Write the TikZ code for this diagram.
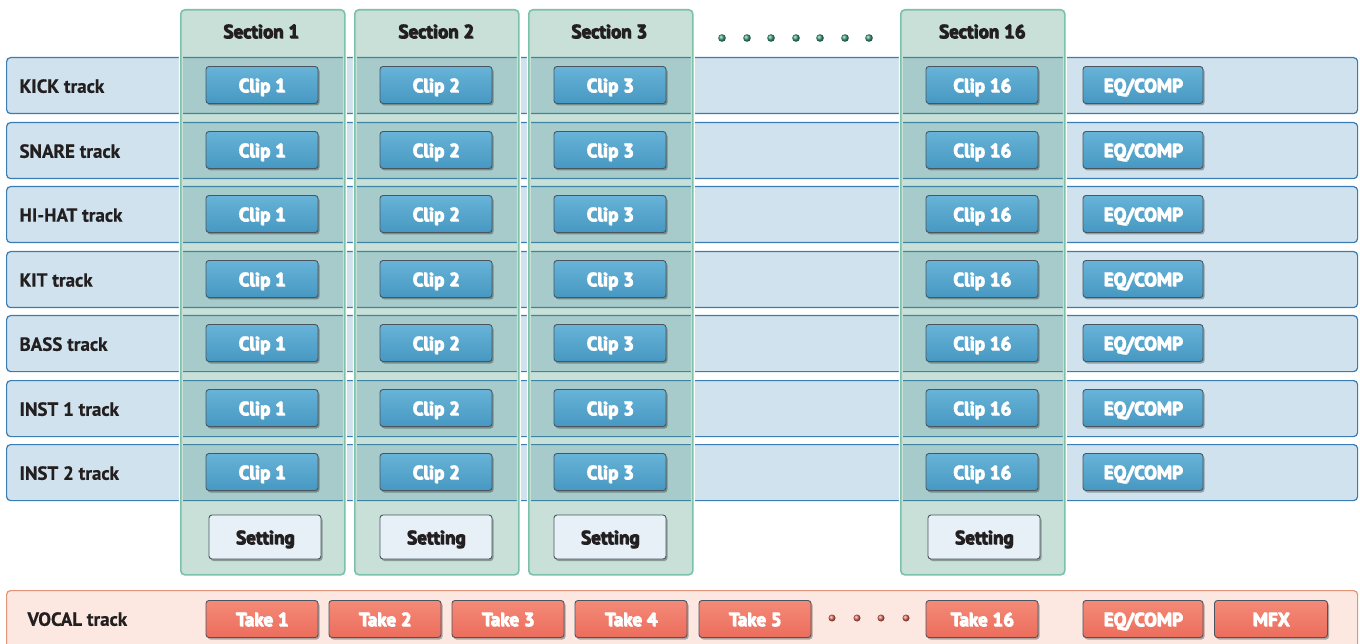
\documentclass[tikz,border=0pt]{standalone}
\usepackage{fontspec}
\setmainfont{PT Sans}[BoldFeatures={FakeBold=0.45}]
\usetikzlibrary{shadows}

\definecolor{rowfill}{HTML}{CFE2ED}
\definecolor{rowline}{HTML}{3A7DB5}
\definecolor{secfill}{HTML}{48987A}
\definecolor{secline}{HTML}{7CC2A8}
\definecolor{cliptop}{HTML}{68B3D8}
\definecolor{clipbot}{HTML}{4698C2}
\definecolor{btnline}{HTML}{4A5560}
\definecolor{setfill}{HTML}{E6F0F6}
\definecolor{taketop}{HTML}{F48A78}
\definecolor{takebot}{HTML}{EC6D5C}
\definecolor{vocfill}{HTML}{FCE7E1}
\definecolor{vocline}{HTML}{E49479}
\definecolor{dotg}{HTML}{3A9A78}
\definecolor{dotr}{HTML}{E0685A}
\definecolor{ink}{HTML}{231F20}
\definecolor{shade}{HTML}{41505C}

\newsavebox{\txtbox}

\tikzset{
  lbl/.style = {font=\fontsize{19}{22}\selectfont\bfseries, text=ink, text depth=0pt},
  shadowtext/.style = {
    execute at begin node={\begin{lrbox}{\txtbox}},
    execute at end node={\end{lrbox}\rlap{\kern0.8pt\raisebox{-0.9pt}{\color{#1}\usebox{\txtbox}}}\usebox{\txtbox}}},
  track/.style = {draw=rowline, fill=rowfill, line width=1.2pt, rounded corners=4pt,
    anchor=north west, minimum width=1351, minimum height=56, inner sep=0pt},
  vocal/.style = {track, draw=vocline, fill=vocfill, minimum height=70},
  section/.style = {preaction={draw=white, line width=4pt}, draw=secline, line width=1.6pt,
    fill=secfill, fill opacity=0.3, rounded corners=4pt, anchor=north west,
    minimum width=164, minimum height=565, inner sep=0pt},
  btn/.style = {lbl, draw=btnline, line width=0.9pt, rounded corners=3pt,
    minimum width=112, minimum height=37, inner sep=0pt,
    drop shadow={shadow xshift=1.5pt, shadow yshift=-2pt, opacity=0.3, fill=black}},
  clip/.style = {btn, top color=cliptop, bottom color=clipbot, text=white, shadowtext=shade},
  eqbox/.style = {clip, minimum width=120},
  setting/.style = {btn, fill=setfill, minimum height=44, shadowtext=black!20},
  take/.style = {btn, top color=taketop, bottom color=takebot, text=white, shadowtext=shade},
  head/.style = {lbl, shadowtext=black!20},
}

\begin{document}
\begin{tikzpicture}[x=1pt, y=-1pt]
\useasboundingbox (0,0) rectangle (1360,644);
% tracks
\node[track] (kick) at (6,57){};
\node[track] (snare) at (6,122){};
\node[track] (hihat) at (6,186){};
\node[track] (kit) at (6,251){};
\node[track] (bass) at (6,315){};
\node[track] (inst1) at (6,380){};
\node[track] (inst2) at (6,444){};
\node[vocal] (vocal) at (6,590){};
\node[lbl, right] (kicklbl) at (16,86){KICK track};
\node[lbl, right] (snarelbl) at (16,151){SNARE track};
\node[lbl, right] (hihatlbl) at (16,215){HI-HAT track};
\node[lbl, right] (kitlbl) at (16,280){KIT track};
\node[lbl, right] (basslbl) at (16,344){BASS track};
\node[lbl, right] (inst1lbl) at (16,409){INST 1 track};
\node[lbl, right] (inst2lbl) at (16,473){INST 2 track};
\node[lbl, right] (vocallbl) at (24,619){VOCAL track};
% sections
\node[section] (sec1) at (180,9){};
\node[section] (sec2) at (354,9){};
\node[section] (sec3) at (528,9){};
\node[section] (sec16) at (900,9){};
\node[head] (sec1lbl) at (261,31){Section 1};
\node[head] (sec2lbl) at (436,31){Section 2};
\node[head] (sec3lbl) at (609,31){Section 3};
\node[head] (sec16lbl) at (982,31){Section 16};
\shade[ball color=dotg] (722,38) circle (3.8);
\shade[ball color=dotg] (747,38) circle (3.8);
\shade[ball color=dotg] (771,38) circle (3.8);
\shade[ball color=dotg] (796,38) circle (3.8);
\shade[ball color=dotg] (820,38) circle (3.8);
\shade[ball color=dotg] (845,38) circle (3.8);
\shade[ball color=dotg] (869,38) circle (3.8);
% KICK
\node[clip] (kickc1) at (262,85){Clip 1};
\node[clip] (kickc2) at (436,85){Clip 2};
\node[clip] (kickc3) at (610,85){Clip 3};
\node[clip] (kickc16) at (982,85){Clip 16};
\node[eqbox] (kickeq) at (1143,85){EQ/COMP};
% SNARE
\node[clip] (snarec1) at (262,150){Clip 1};
\node[clip] (snarec2) at (436,150){Clip 2};
\node[clip] (snarec3) at (610,150){Clip 3};
\node[clip] (snarec16) at (982,150){Clip 16};
\node[eqbox] (snareeq) at (1143,150){EQ/COMP};
% HI-HAT
\node[clip] (hihatc1) at (262,214){Clip 1};
\node[clip] (hihatc2) at (436,214){Clip 2};
\node[clip] (hihatc3) at (610,214){Clip 3};
\node[clip] (hihatc16) at (982,214){Clip 16};
\node[eqbox] (hihateq) at (1143,214){EQ/COMP};
% KIT
\node[clip] (kitc1) at (262,279){Clip 1};
\node[clip] (kitc2) at (436,279){Clip 2};
\node[clip] (kitc3) at (610,279){Clip 3};
\node[clip] (kitc16) at (982,279){Clip 16};
\node[eqbox] (kiteq) at (1143,279){EQ/COMP};
% BASS
\node[clip] (bassc1) at (262,343){Clip 1};
\node[clip] (bassc2) at (436,343){Clip 2};
\node[clip] (bassc3) at (610,343){Clip 3};
\node[clip] (bassc16) at (982,343){Clip 16};
\node[eqbox] (basseq) at (1143,343){EQ/COMP};
% INST 1
\node[clip] (inst1c1) at (262,408){Clip 1};
\node[clip] (inst1c2) at (436,408){Clip 2};
\node[clip] (inst1c3) at (610,408){Clip 3};
\node[clip] (inst1c16) at (982,408){Clip 16};
\node[eqbox] (inst1eq) at (1143,408){EQ/COMP};
% INST 2
\node[clip] (inst2c1) at (262,472){Clip 1};
\node[clip] (inst2c2) at (436,472){Clip 2};
\node[clip] (inst2c3) at (610,472){Clip 3};
\node[clip] (inst2c16) at (982,472){Clip 16};
\node[eqbox] (inst2eq) at (1143,472){EQ/COMP};
% settings
\node[setting] (set1) at (265,537){Setting};
\node[setting] (set2) at (436,537){Setting};
\node[setting] (set3) at (610,537){Setting};
\node[setting] (set16) at (984,537){Setting};
% VOCAL
\node[take] (take1) at (262,619){Take 1};
\node[take] (take2) at (385,619){Take 2};
\node[take] (take3) at (508,619){Take 3};
\node[take] (take4) at (631,619){Take 4};
\node[take] (take5) at (755,619){Take 5};
\node[take] (take16) at (982,619){Take 16};
\node[take, minimum width=120] (vocaleq) at (1143,619){EQ/COMP};
\node[take, minimum width=113] (mfx) at (1271,619){MFX};
\shade[ball color=dotr] (832,618) circle (3.5);
\shade[ball color=dotr] (857,618) circle (3.5);
\shade[ball color=dotr] (881,618) circle (3.5);
\shade[ball color=dotr] (906,618) circle (3.5);
\end{tikzpicture}
\end{document}
